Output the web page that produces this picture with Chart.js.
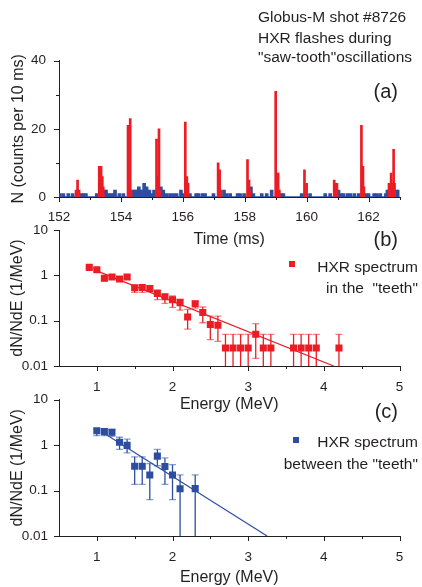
<!DOCTYPE html>
<html>
<head>
<meta charset="utf-8">
<script src="https://cdn.jsdelivr.net/npm/chart.js@4/dist/chart.umd.min.js"></script>
<style>
  body { margin: 0; background: #fff; }
  #wrap { position: relative; width: 422px; height: 587px; font-family: "Liberation Sans", Arial, sans-serif; color: #231f20; }
  canvas { position: absolute; left: 0; top: 0; }
  .t { position: absolute; white-space: pre; font-size: 15.5px; line-height: 20px; }
  .sq { position: absolute; width: 6px; height: 6px; }
</style>
</head>
<body>
<div id="wrap">
  <canvas id="chartA" width="422" height="587"></canvas>
  <canvas id="chartB" width="422" height="587"></canvas>
  <canvas id="chartC" width="422" height="587"></canvas>

  <div class="t" style="left:258px;top:7px">Globus-M shot #8726</div>
  <div class="t" style="left:258px;top:28px">HXR flashes during</div>
  <div class="t" style="left:258px;top:47px">"saw-tooth"oscillations</div>

  <div class="t" style="right:24px;top:79px;font-size:20px;line-height:24px">(a)</div>
  <div class="t" style="right:24px;top:227px;font-size:20px;line-height:24px">(b)</div>
  <div class="t" style="right:24px;top:399px;font-size:20px;line-height:24px">(c)</div>

  <div class="sq" style="left:289px;top:261px;background:#ec1c24"></div>
  <div class="t" style="right:4px;top:256px;text-align:right;line-height:21px">HXR spectrum
in the  "teeth"</div>

  <div class="sq" style="left:293px;top:437px;background:#2d4ea0"></div>
  <div class="t" style="right:4px;top:431px;text-align:right;line-height:22px">HXR spectrum
between the "teeth"</div>
</div>

<script>
// ---- (a) HXR counts vs time ----
const redTimes = [152.55, 152.60, 152.65,
  153.30, 153.36, 153.40, 153.43,
  154.23, 154.26, 154.30, 154.33,
  155.15, 155.19, 155.23, 155.27,
  156.08, 156.13, 156.17,
  157.14, 157.19, 157.23,
  158.09, 158.14, 158.17,
  159.00, 159.04, 159.08, 159.12,
  159.93, 160.00,
  160.89, 160.93, 160.98,
  161.77, 161.82, 161.85,
  162.66, 162.73, 162.77, 162.81, 162.84];
const redCounts = [2, 5, 2,
  9, 9, 6, 3,
  21, 11, 23, 2,
  17, 6, 20, 2,
  22, 6, 4,
  10, 8, 2,
  11, 5, 2,
  31, 7, 7, 2,
  8, 4,
  5, 4, 4,
  21, 9, 3,
  4, 7, 4, 14, 4];

const blueTimes = [152.03, 152.14, 152.30, 152.44, 152.70, 152.79, 152.87, 153.22, 153.48, 153.52,
  153.59, 153.68, 153.76, 153.81, 153.95, 154.08, 154.37, 154.46, 154.51, 154.58,
  154.64, 154.70, 154.75, 154.83, 154.92, 155.00, 155.07, 155.29, 155.37, 155.48,
  155.59, 155.70, 155.80, 155.94, 156.02, 156.23, 156.43, 156.50, 156.63, 156.72,
  156.99, 157.33, 157.42, 157.53, 157.77, 157.85, 157.98, 158.20, 158.28, 158.55,
  158.71, 158.87, 159.17, 159.25, 159.84, 160.11, 160.60, 160.76, 161.03, 161.11,
  161.19, 161.32, 161.41, 161.54, 161.68, 161.91, 162.00, 162.18, 162.27, 162.38,
  162.56, 162.61, 162.70, 162.89, 162.97];
const blueCounts = [1, 1, 1, 1, 1, 1, 1, 1, 2, 2,
  1, 1, 1, 2, 1, 1, 2, 2, 2, 3,
  2, 2, 4, 3, 2, 1, 2, 3, 2, 1,
  1, 1, 1, 2, 1, 1, 1, 1, 1, 1,
  1, 2, 1, 1, 1, 1, 1, 3, 1, 1,
  1, 2, 1, 1, 1, 1, 1, 1, 2, 1,
  1, 1, 1, 1, 1, 1, 1, 1, 1, 1,
  1, 2, 3, 2, 2];

const timeRange = [152, 163];
const timeMajor = [152, 154, 156, 158, 160, 162];
const timeMinor = [153, 155, 157, 159, 161, 163];
const countMajor = [0, 20, 40];
const countMinor = [10, 30];

// ---- (b) spectrum in the "teeth" ----
const energyB = [0.9, 1.0, 1.1, 1.2, 1.3, 1.4, 1.5, 1.6, 1.7, 1.8, 1.9, 2.0, 2.1, 2.2, 2.3,
  2.4, 2.5, 2.6, 2.7, 2.8, 2.9, 3.0, 3.1, 3.2, 3.3, 3.6, 3.7, 3.8, 3.9, 4.2];
const specB = [1.5, 1.33, 0.86, 0.92, 0.83, 0.92, 0.53, 0.54, 0.51, 0.40, 0.336, 0.29, 0.25, 0.12, 0.236,
  0.152, 0.082, 0.079, 0.025, 0.025, 0.025, 0.025, 0.05, 0.025, 0.025, 0.025, 0.025, 0.025, 0.025, 0.025];
const errHiB = [1.6, 1.45, 0.96, 1.0, 0.92, 1.0, 0.60, 0.60, 0.58, 0.47, 0.38, 0.35, 0.30, 0.177, 0.27,
  0.20, 0.126, 0.126, 0.05, 0.05, 0.05, 0.05, 0.086, 0.05, 0.05, 0.05, 0.05, 0.05, 0.05, 0.05];
const errLoB = [1.4, 1.2, 0.76, 0.84, 0.75, 0.84, 0.42, 0.42, 0.45, 0.29, 0.24, 0.196, 0.17, 0.065, 0.19,
  0.09, 0.038, 0.035, 0, 0, 0, 0, 0.0147, 0, 0, 0, 0, 0, 0, 0];
const fitEB = [1.04, 4.13];
const fitNB = [1.18, 0.01];

// ---- (c) spectrum between the "teeth" ----
const energyC = [1.0, 1.1, 1.2, 1.3, 1.4, 1.5, 1.6, 1.7, 1.8, 1.9, 2.0, 2.1, 2.3];
const specC = [2.05, 1.98, 1.91, 1.15, 0.98, 0.34, 0.34, 0.22, 0.57, 0.336, 0.22, 0.109, 0.11];
const errHiC = [2.3, 2.3, 2.2, 1.48, 1.34, 0.55, 0.55, 0.39, 0.80, 0.52, 0.37, 0.22, 0.22];
const errLoC = [1.6, 1.6, 1.55, 0.8, 0.67, 0.136, 0.136, 0.063, 0.35, 0.136, 0.063, 0, 0];
const fitEC = [1.1, 3.25];
const fitNC = [1.8, 0.01];

const energyRange = [0.5, 5];
const energyMajor = [1, 2, 3, 4, 5];
const energyMinor = [1.5, 2.5, 3.5, 4.5];
const logMajor = [0.01, 0.1, 1, 10];

const RED = "#ec1c24";
const BLUE = "#2d4ea0";
const INK = "#231f20";
const FONT = "'Liberation Sans', Arial, sans-serif";

// outward ticks, major and minor, drawn through the chart's scales
const ticksOut = {
  id: "ticksOut",
  afterDraw(chart, args, opts) {
    const ctx = chart.ctx;
    ctx.save();
    ctx.strokeStyle = INK;
    ctx.lineWidth = 1;
    ["x", "y"].forEach(function (id) {
      const s = chart.scales[id];
      const o = opts[id];
      if (!o) return;
      [[o.major, 5], [o.minor, 3]].forEach(function (pair) {
        (pair[0] || []).forEach(function (v) {
          const p = Math.round(s.getPixelForValue(v)) + 0.5;
          ctx.beginPath();
          if (id === "x") { ctx.moveTo(p, s.top); ctx.lineTo(p, s.top + pair[1]); }
          else { ctx.moveTo(s.right, p); ctx.lineTo(s.right - pair[1], p); }
          ctx.stroke();
        });
      });
    });
    ctx.restore();
  }
};

// vertical error bars with caps
const errorBars = {
  id: "errorBars",
  beforeDatasetsDraw(chart, args, opts) {
    if (!opts.x) return;
    const ctx = chart.ctx, a = chart.chartArea;
    const xs = chart.scales.x, ys = chart.scales.y;
    ctx.save();
    ctx.beginPath();
    ctx.rect(a.left, a.top, a.width, a.height);
    ctx.clip();
    ctx.lineWidth = 1.3;
    opts.x.forEach(function (e, i) {
      const px = xs.getPixelForValue(e);
      const top = ys.getPixelForValue(opts.hi[i]);
      const bot = opts.lo[i] > 0 ? ys.getPixelForValue(opts.lo[i]) : a.bottom;
      ctx.strokeStyle = opts.color;
      ctx.beginPath(); ctx.moveTo(px, top); ctx.lineTo(px, bot); ctx.stroke();
      ctx.strokeStyle = opts.capColor;
      ctx.beginPath(); ctx.moveTo(px - 3.5, top); ctx.lineTo(px + 3.5, top); ctx.stroke();
      if (opts.lo[i] > 0) {
        ctx.beginPath(); ctx.moveTo(px - 3.5, bot); ctx.lineTo(px + 3.5, bot); ctx.stroke();
      }
    });
    ctx.restore();
  }
};

function pts(xs, ys) {
  return xs.map(function (x, i) { return { x: x, y: ys[i] }; });
}

function xAxis(range, major, title, height, pad, titlePad) {
  return {
    type: "linear", min: range[0], max: range[1], offset: false,
    grid: { display: false, offset: false },
    border: { color: INK, width: 1 },
    afterBuildTicks: function (s) { s.ticks = major.map(function (v) { return { value: v }; }); },
    ticks: { color: INK, font: { family: FONT, size: 13.5 }, padding: pad, maxRotation: 0, autoSkip: false },
    title: { display: true, text: title, color: INK, font: { family: FONT, size: 16 }, padding: { top: 0, bottom: titlePad } },
    afterFit: function (s) { s.height = height; }
  };
}

function yAxis(type, min, max, major, title, pad, titlePad) {
  return {
    type: type, min: min, max: max,
    grid: { display: false },
    border: { color: INK, width: 1 },
    afterBuildTicks: function (s) { s.ticks = major.map(function (v) { return { value: v }; }); },
    ticks: { color: INK, font: { family: FONT, size: 13.5 }, padding: pad, autoSkip: false,
      callback: function (v) { return String(v); } },
    title: { display: true, text: title, color: INK, font: { family: FONT, size: 16 }, padding: { top: titlePad, bottom: 0 } },
    afterFit: function (s) { s.width = 59; }
  };
}

// --- (a) ---
new Chart(document.getElementById("chartA"), {
  type: "bar",
  data: {
    datasets: [
      { data: pts(redTimes, redCounts), backgroundColor: RED, barThickness: 2, grouped: false },
      { data: pts(blueTimes, blueCounts), backgroundColor: BLUE, barThickness: 3, grouped: false },
      { type: "line", data: pts(timeRange, [0, 0]), borderColor: BLUE, borderWidth: 1.5, pointRadius: 0 }
    ]
  },
  options: {
    responsive: false,
    animation: false,
    layout: { padding: { left: 0, right: 22.5, top: 60.7, bottom: 338 } },
    plugins: {
      legend: { display: false },
      tooltip: { enabled: false },
      ticksOut: { x: { major: timeMajor, minor: timeMinor }, y: { major: countMajor, minor: countMinor } }
    },
    scales: {
      x: xAxis(timeRange, timeMajor, "Time (ms)", 52, 4, 0),
      y: yAxis("linear", 0, 40, countMajor, "N (counts per 10 ms)", 5, 9.4)
    }
  },
  plugins: [ticksOut]
});

// --- (b) and (c) ---
function spectrum(id, E, N, hi, lo, fitE, fitN, color, capColor, padTop, padBottom, xHeight, titlePad, label) {
  new Chart(document.getElementById(id), {
    type: "scatter",
    data: {
      datasets: [
        { label: label, data: pts(E, N), backgroundColor: color, borderWidth: 0,
          pointStyle: "rect", pointRadius: 5, pointHoverRadius: 5 },
        { type: "line", data: pts(fitE, fitN), borderColor: color, borderWidth: 1.2,
          pointRadius: 0, showLine: true, fill: false }
      ]
    },
    options: {
      responsive: false,
      animation: false,
      layout: { padding: { left: 0, right: 22.5, top: padTop, bottom: padBottom } },
      plugins: {
        legend: { display: false },
        tooltip: { enabled: false },
        ticksOut: { x: { major: energyMajor, minor: energyMinor }, y: { major: logMajor } },
        errorBars: { x: E, hi: hi, lo: lo, color: color, capColor: capColor }
      },
      scales: {
        x: xAxis(energyRange, energyMajor, "Energy (MeV)", xHeight, 5, titlePad),
        y: yAxis("logarithmic", 0.01, 10, logMajor, "dN/NdE (1/MeV)", 3, 8)
      }
    },
    plugins: [ticksOut, errorBars]
  });
}

spectrum("chartB", energyB, specB, errHiB, errLoB, fitEB, fitNB, RED, "rgba(236,28,36,0.55)", 230, 173, 48, 0, "HXR spectrum in the \"teeth\"");
spectrum("chartC", energyC, specC, errHiC, errLoC, fitEC, fitNC, BLUE, "rgba(45,78,160,0.55)", 399.5, 0, 51, 0, "HXR spectrum between the \"teeth\"");
</script>
</body>
</html>
